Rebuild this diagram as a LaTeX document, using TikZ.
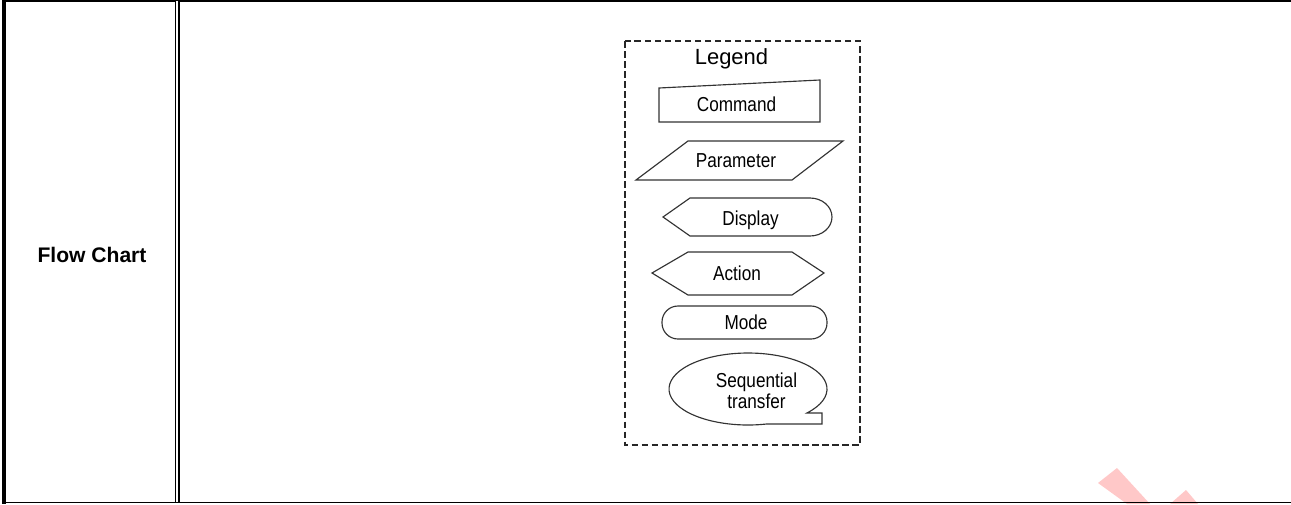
\documentclass[tikz,border=0pt]{standalone}
\usepackage{fontspec}
\setmainfont{Liberation Sans}
\newfontfamily\narrowsans[FakeStretch=0.85]{Liberation Sans}
\usetikzlibrary{calc}

\begin{document}
\begin{tikzpicture}[x=0.02cm, y=-0.02cm,
                    thinrule/.style={line width=0.6pt},
                    thickrule/.style={line width=2.3pt},
                    midrule/.style={line width=1.1pt},
                    legendbox/.style={draw=black!85, line width=0.75pt, dash pattern=on 3.8pt off 1.9pt},
                    symbol/.style={draw=black!80, line width=0.65pt},
                    symtext/.style={font=\narrowsans\fontsize{11.5}{13}\selectfont, anchor=base, inner sep=0pt},
                    headtext/.style={font=\fontsize{12.5}{14}\selectfont, anchor=base, inner sep=0pt},
                    celltext/.style={font=\bfseries\fontsize{12}{14}\selectfont, anchor=base, inner sep=0pt},
                    watermark/.style={fill={rgb,255:red,255;green,200;blue,200}, draw=none}]

            \useasboundingbox (0,0) rectangle (1291,504);

            \fill[watermark] (1098,483) -- (1117,468) -- (1150,504) -- (1127,504) -- cycle;
            \fill[watermark] (1170,504) -- (1186,490) -- (1198,504) -- cycle;

            \coordinate (tl) at (2,0.4);
            \coordinate (tr) at (1291,0.4);
            \coordinate (bl) at (2,502.6);
            \coordinate (br) at (1291,502.6);

            \draw[thinrule] (tl) -- (tr);
            \draw[thinrule] (bl) -- (br);
            \draw[thickrule] (4,0) -- (4,504);
            \draw[thinrule] (6,1.6) -- (176,1.6);
            \draw[thinrule] (175.6,1.6) -- (175.6,503);
            \draw[midrule] (178.6,1.5) -- (178.6,503);
            \draw[thinrule] (178,1.6) -- (1291,1.6);

            \node[celltext] (flowchart) at (92,262) {Flow Chart};

            \draw[legendbox] (625,41) rectangle (860,445);
            \node[headtext] (legend) at (731.5,64) {Legend};

            \draw[symbol] (659,122) -- (820,122) -- (820,80) -- (659,88) -- cycle;
            \node[symtext] (command) at (736.5,111.7) {Command};

            \draw[symbol] (636,180) -- (792,180) -- (843,141) -- (688,141) -- cycle;
            \node[symtext] (parameter) at (736,167) {Parameter};

            \draw[symbol] (663,217) -- (690,198) -- (810,198)
                arc[start angle=-90, end angle=90, x radius=22, y radius=19] -- (690,236) -- cycle;
            \node[symtext] (display) at (750.5,225) {Display};

            \draw[symbol] (652,273) -- (688,252) -- (792,252) -- (824,273) -- (792,295) -- (688,295) -- cycle;
            \node[symtext] (action) at (737,280) {Action};

            \draw[symbol, rounded corners=0.32cm] (662,306) rectangle (827,339);
            \node[symtext] (mode) at (746,329) {Mode};

            \draw[symbol] (806.9,413) arc[start angle=41.8, end angle=-283.5, x radius=79, y radius=36]
                -- (822,424) -- (822,413) -- cycle;
            \node[symtext] (sequential) at (756.5,387) {Sequential};
            \node[symtext] (transfer) at (756.5,408) {transfer};
        \end{tikzpicture}
\end{document}
